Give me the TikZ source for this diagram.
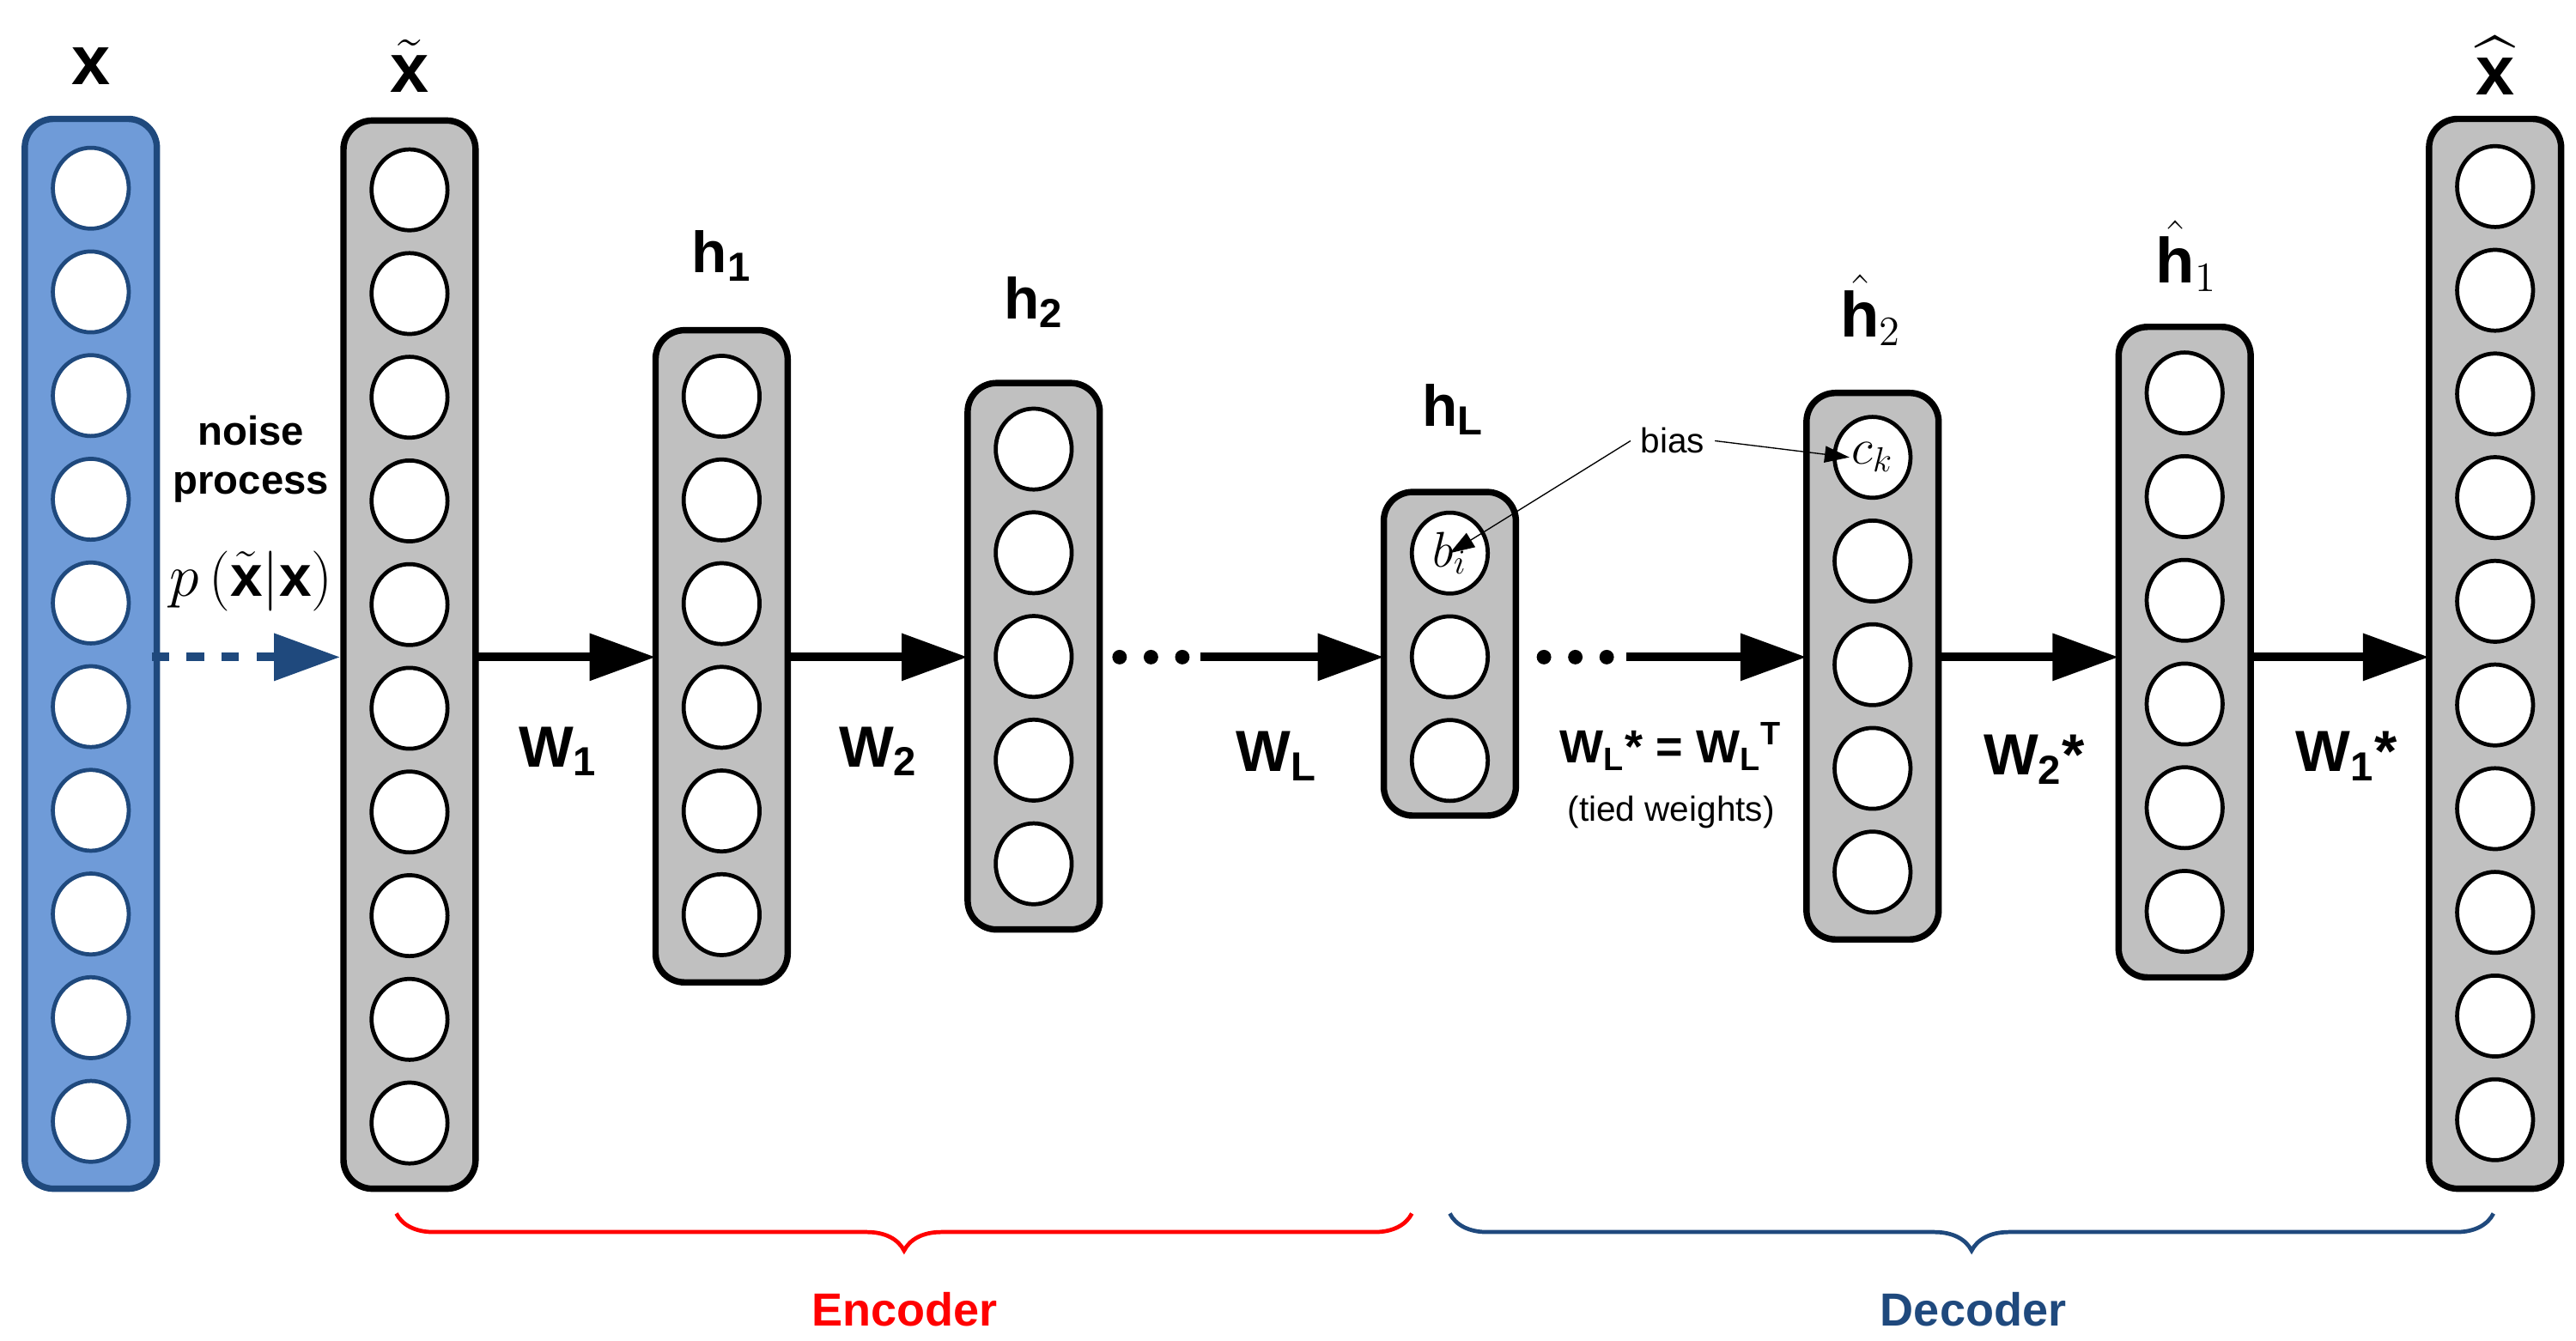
\documentclass[tikz,border=0pt]{standalone}
\usepackage{fontspec}
\setmainfont{Liberation Sans}
\usepackage{amsmath}
\usetikzlibrary{arrows.meta,shapes.geometric,decorations.pathreplacing,positioning,calc}
\definecolor{layerblue}{HTML}{6F9BD8}
\definecolor{darkblue}{HTML}{1F497D}
\definecolor{layergray}{HTML}{C0C0C0}
\tikzset{
  col/.style={draw,line width=2.2pt,rounded corners=0.35cm,fill=layergray},
  unit/.style={ellipse,draw,line width=1.4pt,fill=white,minimum width=0.92cm,minimum height=0.98cm,inner sep=0pt},
  fwd/.style={line width=3pt,-{Triangle[length=0.8cm,width=0.55cm]}},
  lbl/.style={font=\fontsize{20}{22}\selectfont\bfseries},
}
\begin{document}
\begin{tikzpicture}[x=0.02cm,y=-0.02cm]
\useasboundingbox (0,0) rectangle (1560,812);
% input column
\draw[col,fill=layerblue,draw=darkblue] (15,72) rectangle (95,720);
\foreach \i in {0,...,9}
  \node[unit,draw=darkblue] (x\i) at (55,{114+62.8*\i}) {};
% layer columns: name/xc/top/bottom/first/count
\foreach \n/\c/\t/\b/\f/\k in {xt/248/73/720/115/9, ha/437/200/595/240/5, hb/626/232/563/272/4,
  hl/878/298/494/335/2, gb/1134/238/569/277/4, ga/1323/198/592/238/5, xh/1511/72/720/113/9}{
  \draw[col] ({\c-40},\t) rectangle ({\c+40},\b);
  \coordinate (\n) at (\c,398);
  \foreach \i in {0,...,\k}
    \node[unit] (\n\i) at (\c,{\f+62.8*\i}) {};
}
\node at (hl0) {\fontsize{18}{18}\selectfont$b_i$};
\node at (gb0) {\fontsize{18}{18}\selectfont$c_k$};
% labels
\node[font=\fontsize{24}{24}\selectfont\bfseries] at (55,40) {x};
\node at (248,40) {\fontsize{24}{24}\selectfont$\tilde{\mathbf{x}}$};
\node[lbl] at (437,155) {h$_{\mathbf 1}$};
\node[lbl] at (626,183) {h$_{\mathbf 2}$};
\node[lbl] at (880,248) {h$_{\mathrm{\bf L}}$};
\node at (1133,188) {\fontsize{22}{22}\selectfont$\hat{\mathbf{h}}_2$};
\node at (1324,155) {\fontsize{22}{22}\selectfont$\hat{\mathbf{h}}_1$};
\node at (1511,40) {\fontsize{24}{24}\selectfont$\widehat{\mathbf{x}}$};
% connectors
\coordinate (xr) at (92,398);
\coordinate (nt) at (206,398);
\draw[darkblue,line width=3pt,dash pattern=on 6pt off 6pt,-{Triangle[length=0.8cm,width=0.55cm]}] (xr) -- (nt);
\node[font=\fontsize{14}{17}\selectfont\bfseries,align=center] at (152,278) {noise\\process};
\node at (152,352) {\fontsize{20}{20}\selectfont$p\left(\tilde{\mathbf{x}}\middle|\mathbf{x}\right)$};
\draw[fwd] ($(xt)+(40,0)$) -- ($(ha)+(-40,0)$);
\draw[fwd] ($(ha)+(40,0)$) -- ($(hb)+(-40,0)$);
\draw[fwd] (727,398) coordinate (d1) -- ($(hl)+(-40,0)$);
\draw[fwd] (985,398) coordinate (d2) -- ($(gb)+(-40,0)$);
\draw[fwd] ($(gb)+(40,0)$) -- ($(ga)+(-40,0)$);
\draw[fwd] ($(ga)+(40,0)$) -- ($(xh)+(-40,0)$);
\foreach \p in {678,697,716,935,954,973}
  \fill (\p,398) circle (2.5pt);
\node[lbl] at (338,455) {W$_{\mathbf 1}$};
\node[lbl] at (532,455) {W$_{\mathbf 2}$};
\node[lbl] at (773,458) {W$_{\mathbf L}$};
\node[font=\fontsize{16}{18}\selectfont\bfseries] at (1012,452) {W$_{\mathbf L}$* = W$_{\mathbf L}$$^{\mathbf T}$};
\node[font=\fontsize{12}{14}\selectfont] at (1012,492) {(tied weights)};
\node[lbl] at (1232,460) {W$_{\mathbf 2}$*};
\node[lbl] at (1421,458) {W$_{\mathbf 1}$*};
% bias pointers
\node[font=\fontsize{12}{14}\selectfont] (bias) at (1013,267) {bias};
\draw[thin,-{Triangle[length=0.3cm,width=0.2cm]}] (bias.west) -- (hl0.center);
\draw[thin,-{Triangle[length=0.3cm,width=0.2cm]}] (bias.east) -- ($(gb0.center)+(-14,0)$);
% braces
\draw[red,line width=1.4pt,decorate,decoration={brace,mirror,amplitude=0.45cm}] (240,735) -- (855,735);
\draw[darkblue,line width=1.4pt,decorate,decoration={brace,mirror,amplitude=0.45cm}] (878,735) -- (1510,735);
\node[red,font=\fontsize{16}{18}\selectfont\bfseries] at (548,793) {Encoder};
\node[darkblue,font=\fontsize{16}{18}\selectfont\bfseries] at (1195,793) {Decoder};
\end{tikzpicture}
\end{document}
